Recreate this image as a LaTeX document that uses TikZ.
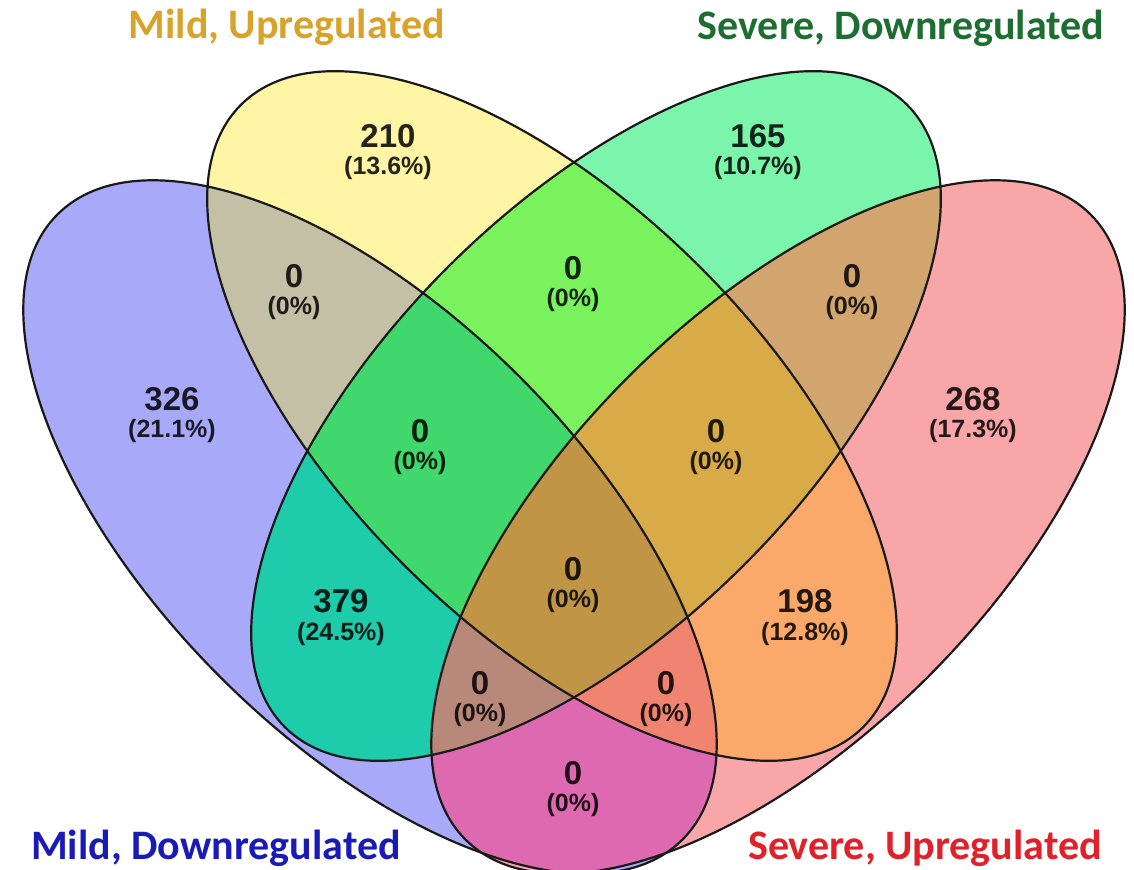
\documentclass[tikz,border=0pt]{standalone}
\usepackage{fontspec}
\setmainfont{Liberation Sans}
\newfontfamily\titlefont{Carlito}

% region colours
\definecolor{fA}{HTML}{A9A9FA}
\definecolor{fB}{HTML}{FFF5A5}
\definecolor{fC}{HTML}{7CF5AC}
\definecolor{fD}{HTML}{F8A6A8}
\definecolor{fAB}{HTML}{C4C0A6}
\definecolor{fAC}{HTML}{1ECBAA}
\definecolor{fAD}{HTML}{DD6AB0}
\definecolor{fBC}{HTML}{7AF25E}
\definecolor{fBD}{HTML}{FBA96A}
\definecolor{fCD}{HTML}{D2A56E}
\definecolor{fABC}{HTML}{40D86C}
\definecolor{fABD}{HTML}{F08470}
\definecolor{fACD}{HTML}{B8897A}
\definecolor{fBCD}{HTML}{D8AA48}
\definecolor{fABCD}{HTML}{C09546}
% set name colours
\definecolor{tMildUp}{HTML}{D9A22A}
\definecolor{tSevDown}{HTML}{1E6E32}
\definecolor{tMildDown}{HTML}{1A1AB8}
\definecolor{tSevUp}{HTML}{E2202A}

% the four ellipses (pixel units, y pointing down)
\newcommand\EA{(370,527) ellipse [x radius=442, y radius=212]}
\newcommand\EB{(552,416) ellipse [x radius=440, y radius=210]}
\newcommand\EC{(596,416) ellipse [x radius=440, y radius=210]}
\newcommand\ED{(778,527) ellipse [x radius=442, y radius=212]}

% count + percentage pair
\newcommand\cnt[5]{%
  \node[numtxt] (#1n) at (#2,#3) {#4};
  \node[pcttxt] (#1p) at (#2,#3+27) {#5};}

\begin{document}
\begin{tikzpicture}[x=0.5pt,y=-0.5pt,
  rotA/.style={rotate around={-45:(370,527)}},
  rotB/.style={rotate around={-45:(552,416)}},
  rotC/.style={rotate around={45:(596,416)}},
  rotD/.style={rotate around={45:(778,527)}},
  outline/.style={draw=black!90, line width=1.1pt},
  numtxt/.style={font=\fontsize{16.5}{19}\selectfont\bfseries,
    text=black, text opacity=0.85, anchor=base, inner sep=0pt},
  pcttxt/.style={font=\fontsize{12.5}{15}\selectfont\bfseries,
    text=black, text opacity=0.85, anchor=base, inner sep=0pt},
  setname/.style={font=\titlefont\bfseries\fontsize{21}{25}\selectfont,
    anchor=base, inner sep=0pt}]

\fill[white] (0,0) rectangle (1134,870);
\useasboundingbox (0,0) rectangle (1134,870);

% single sets
\fill[fA, rotA] \EA;
\fill[fB, rotB] \EB;
\fill[fC, rotC] \EC;
\fill[fD, rotD] \ED;

% pairwise overlaps
\begin{scope}\clip[rotA] \EA; \fill[fAB, rotB] \EB; \end{scope}
\begin{scope}\clip[rotA] \EA; \fill[fAC, rotC] \EC; \end{scope}
\begin{scope}\clip[rotA] \EA; \fill[fAD, rotD] \ED; \end{scope}
\begin{scope}\clip[rotB] \EB; \fill[fBC, rotC] \EC; \end{scope}
\begin{scope}\clip[rotB] \EB; \fill[fBD, rotD] \ED; \end{scope}
\begin{scope}\clip[rotC] \EC; \fill[fCD, rotD] \ED; \end{scope}

% triple overlaps
\begin{scope}\clip[rotA] \EA; \clip[rotB] \EB; \fill[fABC, rotC] \EC; \end{scope}
\begin{scope}\clip[rotA] \EA; \clip[rotB] \EB; \fill[fABD, rotD] \ED; \end{scope}
\begin{scope}\clip[rotA] \EA; \clip[rotC] \EC; \fill[fACD, rotD] \ED; \end{scope}
\begin{scope}\clip[rotB] \EB; \clip[rotC] \EC; \fill[fBCD, rotD] \ED; \end{scope}

% all four
\begin{scope}\clip[rotA] \EA; \clip[rotB] \EB; \clip[rotC] \EC;
  \fill[fABCD, rotD] \ED; \end{scope}

% outlines
\draw[outline, rotA] \EA;
\draw[outline, rotB] \EB;
\draw[outline, rotC] \EC;
\draw[outline, rotD] \ED;

% counts
\cnt{b}{388}{148}{210}{(13.6\%)}
\cnt{c}{758}{148}{165}{(10.7\%)}
\cnt{ab}{294}{288}{0}{(0\%)}
\cnt{bc}{573}{280}{0}{(0\%)}
\cnt{cd}{852}{288}{0}{(0\%)}
\cnt{a}{172}{411}{326}{(21.1\%)}
\cnt{d}{973}{411}{268}{(17.3\%)}
\cnt{abc}{420}{443}{0}{(0\%)}
\cnt{bcd}{716}{443}{0}{(0\%)}
\cnt{abcd}{573}{581}{0}{(0\%)}
\cnt{ac}{341}{613}{379}{(24.5\%)}
\cnt{bd}{805}{613}{198}{(12.8\%)}
\cnt{acd}{480}{694}{0}{(0\%)}
\cnt{abd}{666}{694}{0}{(0\%)}
\cnt{ad}{573}{784}{0}{(0\%)}

% set names
\node[setname, text=tMildUp]   (nMildUp)   at (287,39)  {Mild, Upregulated};
\node[setname, text=tSevDown]  (nSevDown)  at (901,40)  {Severe, Downregulated};
\node[setname, text=tMildDown] (nMildDown) at (216,859) {Mild, Downregulated};
\node[setname, text=tSevUp]    (nSevUp)    at (925,859) {Severe, Upregulated};
\end{tikzpicture}
\end{document}
